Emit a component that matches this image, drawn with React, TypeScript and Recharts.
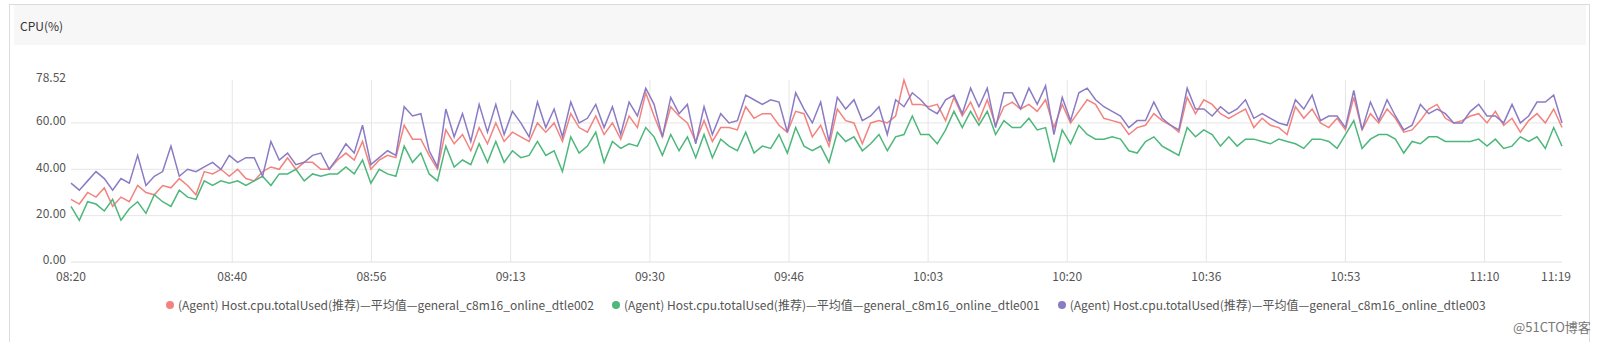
import React from "react";
import { CartesianGrid, Line, LineChart, XAxis, YAxis } from "recharts";

// one sample per minute, 08:20 .. 11:19
const dtle002 = [
  27, 25, 30, 28, 32, 24, 28, 26, 33, 30, 29, 33, 32, 36, 33, 29, 39, 38, 40, 37, 40, 36,
  35, 39, 41, 40, 45, 40, 43, 43, 40, 40, 44, 47, 44, 52, 40, 44, 46, 45, 59, 53, 53, 46,
  40, 57, 51, 55, 48, 58, 51, 60, 52, 56, 54, 52, 60, 56, 60, 52, 64, 58, 56, 63, 55, 60,
  53, 63, 58, 73, 63, 54, 67, 63, 60, 52, 61, 52, 58, 58, 57, 67, 62, 64, 64, 59, 56, 65, 64,
  54, 59, 50, 66, 61, 60, 51, 60, 61, 60, 63, 78.52, 68, 68, 67, 68, 61, 71, 63, 69, 61, 70,
  59, 67, 69, 66, 68, 65, 70, 58, 68, 60, 65, 70, 68, 62, 61, 60, 55, 58, 59, 64, 61, 59,
  56, 71, 64, 70, 68, 64, 62, 64, 66, 58, 62, 59, 58, 55, 67, 62, 66, 60, 58, 62, 57, 71,
  57, 64, 60, 66, 62, 56, 57, 61, 66, 68, 62, 60, 61, 63, 64, 60, 65, 59, 62, 56, 61, 64, 60, 66, 58,
];

const dtle001 = [
  24, 18, 26, 25, 22, 27, 18, 23, 26, 21, 29, 26, 24, 31, 28, 27, 35, 33, 35, 34, 35, 33,
  35, 37, 33, 38, 38, 40, 35, 38, 37, 38, 38, 41, 38, 44, 34, 40, 38, 37, 50, 43, 47, 38,
  35, 50, 41, 44, 42, 51, 43, 52, 43, 48, 45, 46, 52, 46, 48, 39, 54, 47, 50, 56, 43, 52,
  49, 51, 50, 58, 54, 46, 55, 48, 54, 45, 55, 45, 53, 50, 48, 56, 47, 50, 49, 55, 47, 58, 50,
  48, 50, 43, 56, 52, 54, 48, 51, 55, 48, 54, 55, 63, 55, 55, 51, 57, 65, 58, 65, 59, 65,
  55, 61, 58, 58, 62, 57, 58, 43, 57, 51, 59, 55, 53, 53, 54, 53, 48, 47, 52, 54, 50, 48,
  46, 58, 54, 57, 55, 50, 54, 50, 53, 53, 52, 51, 53, 52, 51, 49, 53, 53, 52, 49, 55, 61,
  49, 53, 55, 55, 53, 47, 52, 51, 54, 54, 52, 52, 52, 52, 53, 50, 53, 49, 50, 54, 52, 54, 49, 58, 50,
];

const dtle003 = [
  34, 31, 35, 39, 36, 31, 36, 34, 46, 33, 37, 39, 50, 37, 40, 39, 41, 43, 40, 46, 43, 45,
  45, 37, 52, 44, 47, 42, 43, 46, 47, 40, 45, 51, 47, 59, 42, 45, 48, 46, 67, 63, 64, 48,
  41, 66, 54, 64, 52, 68, 56, 68, 55, 65, 60, 54, 69, 58, 66, 54, 69, 60, 62, 68, 58, 67,
  55, 69, 63, 75, 68, 54, 71, 64, 68, 51, 67, 55, 64, 60, 61, 72, 70, 68, 70, 69, 56, 73, 66,
  60, 69, 52, 71, 66, 70, 61, 63, 67, 55, 70, 67, 73, 70, 66, 64, 70, 72, 64, 75, 67, 75,
  58, 73, 73, 66, 75, 68, 76, 55, 71, 61, 73, 75, 70, 67, 65, 63, 58, 61, 61, 69, 62, 59,
  57, 75, 66, 66, 63, 67, 64, 66, 70, 62, 64, 62, 60, 59, 70, 66, 72, 61, 63, 63, 58, 74,
  57, 69, 61, 70, 63, 57, 59, 68, 64, 66, 64, 60, 60, 65, 68, 63, 63, 60, 68, 60, 63, 69, 69, 72, 60,
];

const seriesNames = [
  "(Agent) Host.cpu.totalUsed(推荐)—平均值—general_c8m16_online_dtle002",
  "(Agent) Host.cpu.totalUsed(推荐)—平均值—general_c8m16_online_dtle001",
  "(Agent) Host.cpu.totalUsed(推荐)—平均值—general_c8m16_online_dtle003",
];
const seriesColors = ["#f2837e", "#4db77c", "#8b7bc4"];

const yTicks = [0, 20, 40, 60, 78.52];
// minutes after 08:20 where the time labels sit
const xTickMinutes = [0, 19.36, 36.07, 52.78, 69.5, 86.2, 102.9, 119.6, 136.3, 153.0, 169.7, 179];
const xTickLabels = ["08:20", "08:40", "08:56", "09:13", "09:30", "09:46", "10:03", "10:20", "10:36", "10:53", "11:10", "11:19"];

const font = '"Noto Sans CJK SC", "Noto Sans", sans-serif';

function TimeTick(props: any) {
  const { x, y, payload, index } = props;
  // the last label is pulled in a little so it stays inside the card
  const shift = index === xTickLabels.length - 1 ? -6 : 0;
  return (
    <text x={x + shift} y={y + 11} textAnchor="middle" fill="#555" fontSize={12} fontFamily={font}>
      {xTickLabels[xTickMinutes.indexOf(payload.value)]}
    </text>
  );
}

export default function App() {
  const data = dtle002.map((v, i) => ({ m: i, a: v, b: dtle001[i], c: dtle003[i] }));

  return (
    <div style={{ position: "absolute", left: 0, top: 0, width: 1601, height: 342, background: "#fff", fontFamily: font }}>
      {/* card */}
      <div style={{ position: "absolute", left: 9, top: 4, width: 1581, height: 345, border: "1px solid #dcdcdc", boxSizing: "border-box" }} />
      <div style={{ position: "absolute", left: 14, top: 5, width: 1572, height: 40, background: "#f7f7f7" }} />
      <div style={{ position: "absolute", left: 20, top: 17, fontSize: 12, color: "#333" }}>CPU(%)</div>

      <div style={{ position: "absolute", left: 0, top: 0 }}>
        <LineChart width={1601} height={342} data={data} margin={{ top: 80, right: 39, bottom: 50, left: 0 }}>
          <CartesianGrid
            stroke="#e6e6e6"
            horizontalValues={[20, 40, 60]}
            verticalValues={xTickMinutes.slice(1, -1)}
          />
          <XAxis
            dataKey="m"
            type="number"
            domain={[0, 179]}
            ticks={xTickMinutes}
            interval={0}
            tickLine={false}
            axisLine={{ stroke: "#e0e0e0" }}
            tick={<TimeTick />}
            height={30}
          />
          <YAxis
            type="number"
            domain={[0, 78.52]}
            ticks={yTicks}
            interval={0}
            tickFormatter={(v) => v.toFixed(2)}
            tickLine={false}
            axisLine={false}
            tickSize={4}
            tickMargin={1}
            tick={{ fill: "#555", fontSize: 12, fontFamily: font, dy: -2 }}
            width={71}
          />
          <Line dataKey="a" stroke={seriesColors[0]} strokeWidth={1.5} dot={false} isAnimationActive={false} />
          <Line dataKey="b" stroke={seriesColors[1]} strokeWidth={1.5} dot={false} isAnimationActive={false} />
          <Line dataKey="c" stroke={seriesColors[2]} strokeWidth={1.5} dot={false} isAnimationActive={false} />
        </LineChart>
      </div>

      {/* legend */}
      <div style={{ position: "absolute", left: 166, top: 296, display: "flex", alignItems: "center", fontSize: 12, color: "#555", whiteSpace: "nowrap" }}>
        {seriesNames.map((name, i) => (
          <div key={name} style={{ display: "flex", alignItems: "center", marginRight: 18 }}>
            <span style={{ width: 8, height: 8, borderRadius: 4, background: seriesColors[i], marginRight: 4 }} />
            <span>{name}</span>
          </div>
        ))}
      </div>
      <div style={{ position: "absolute", left: 1513, top: 317, fontSize: 13, color: "#777" }}>@51CTO博客</div>
    </div>
  );
}
